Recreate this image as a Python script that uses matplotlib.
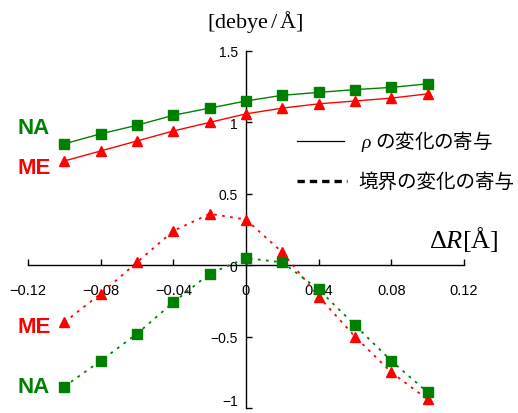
import matplotlib
matplotlib.use("Agg")
import matplotlib.pyplot as plt
from matplotlib.lines import Line2D

plt.rcParams["mathtext.fontset"] = "custom"
plt.rcParams["mathtext.it"] = "Liberation Serif:italic"
plt.rcParams["mathtext.rm"] = "Liberation Serif"

x = [-0.10, -0.08, -0.06, -0.04, -0.02, 0.0, 0.02, 0.04, 0.06, 0.08, 0.10]
na_rho = [0.85, 0.92, 0.98, 1.05, 1.10, 1.15, 1.19, 1.21, 1.23, 1.245, 1.27]
me_rho = [0.73, 0.80, 0.87, 0.94, 1.00, 1.06, 1.10, 1.13, 1.15, 1.17, 1.20]
me_bnd = [-0.40, -0.20, 0.02, 0.24, 0.36, 0.32, 0.09, -0.22, -0.50, -0.75, -0.94]
na_bnd = [-0.85, -0.67, -0.48, -0.26, -0.06, 0.05, 0.02, -0.17, -0.42, -0.67, -0.89]
xticks = [-0.12, -0.08, -0.04, 0, 0.04, 0.08, 0.12]
xticklabels = ["\u22120.12", "\u22120.08", "\u22120.04", "0", "0.04", "0.08", "0.12"]
yticks = [-1, -0.5, 0, 0.5, 1, 1.5]
yticklabels = ["\u22121", "\u22120.5", "0", "0.5", "1", "1.5"]

GREEN = "#008000"
RED = "#FF0000"
W, H = 518, 414

fig = plt.figure(figsize=(W/100, H/100), dpi=100)
ax = fig.add_axes([28/W, 5/H, (464-28)/W, (409-52)/H])
ax.set_xlim(-0.12, 0.12)
ax.set_ylim(-1, 1.5)
ax.patch.set_alpha(0)
for s in ["top", "right"]:
    ax.spines[s].set_visible(False)
ax.spines["left"].set_position(("data", 0))
ax.spines["bottom"].set_position(("data", 0))
for s in ["left", "bottom"]:
    ax.spines[s].set_linewidth(1.0)

ax.set_xticks(xticks)
ax.set_xticklabels(xticklabels)
ax.set_yticks(yticks)
ax.set_yticklabels(yticklabels)
ax.tick_params(axis="x", direction="in", length=4, width=1, pad=13, labelsize=10.5)
ax.tick_params(axis="y", direction="in", length=4, width=1, pad=6, labelsize=10)
for lab in ax.get_xticklabels() + ax.get_yticklabels():
    lab.set_fontfamily("Liberation Sans")
ax.get_yticklabels()[0].set_va("bottom")

ax.plot(x, na_rho, color=GREEN, lw=1.0, marker="s", ms=7.5, mec=GREEN, mfc=GREEN, zorder=3, clip_on=False)
ax.plot(x, me_rho, color=RED, lw=1.0, marker="^", ms=7.5, mec=RED, mfc=RED, zorder=3, clip_on=False)
ax.plot(x, me_bnd, color=RED, lw=1.3, ls=(0, (1.5, 3)), marker="^", ms=7.5, mec=RED, mfc=RED, zorder=3, clip_on=False)
ax.plot(x, na_bnd, color=GREEN, lw=1.3, ls=(0, (1.5, 3)), marker="s", ms=7.5, mec=GREEN, mfc=GREEN, zorder=4, clip_on=False)

# side labels
for txt, px, py, c in [("NA", 34, 128, GREEN), ("ME", 34, 168, RED), ("ME", 34, 328, RED), ("NA", 34, 388, GREEN)]:
    fig.text(px/W, 1-py/H, txt, color=c, fontsize=16, fontweight="bold",
             family="Liberation Sans", ha="center", va="center")

# legend (manual)
fig.add_artist(Line2D([297/W, 344/W], [1-142/H, 1-142/H], color="black", lw=0.9))
fig.add_artist(Line2D([297/W, 347/W], [1-182/H, 1-182/H], color="black", lw=2.4, ls=(0, (2.2, 1.5))))
fig.text(361/W, 1-142/H, "$\\rho$ の変化の寄与", fontsize=14, family=["Noto Sans CJK JP", "DejaVu Sans"],
         ha="left", va="center")
fig.text(358/W, 1-182/H, "境界の変化の寄与", fontsize=14, family=["Noto Sans CJK JP", "DejaVu Sans"],
         ha="left", va="center")

fig.text(255/W, 1-22/H, "[debye$\\,$/$\\,$Å]", fontsize=16, family="Liberation Serif", ha="center", va="center")
fig.text(464/W, 1-240/H, "Δ$R$[Å]", fontsize=19, family="Liberation Serif", ha="center", va="center")

fig.savefig("out.png", dpi=100)
